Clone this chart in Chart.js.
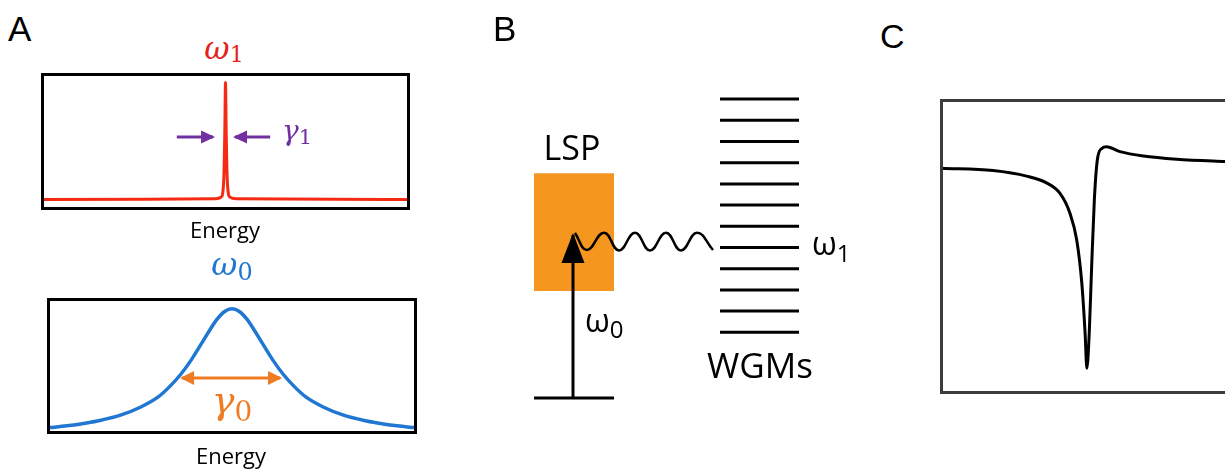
<!DOCTYPE html>
<html>
<head>
<meta charset="utf-8">
<script src="https://cdn.jsdelivr.net/npm/chart.js@4.4.1/dist/chart.umd.min.js"></script>
<style>
  html, body { margin: 0; padding: 0; width: 1225px; height: 469px; overflow: hidden; background: #fff; }
  canvas { position: absolute; }
  .lbl { position: absolute; white-space: nowrap; line-height: 1; }
  .sub { position: relative; font-style: normal; }
</style>
</head>
<body>
<canvas id="cavityMode" width="380" height="148" style="left:36px;top:68px"></canvas>
<canvas id="plasmonMode" width="380" height="146" style="left:42px;top:293px"></canvas>
<canvas id="levelScheme" width="400" height="469" style="left:480px;top:0px"></canvas>
<canvas id="fanoShape" width="312" height="305" style="left:935px;top:94px"></canvas>
<script>
// ---- data ----
// narrow WGM resonance (omega_1)
const cavityX = [0, 47, 48.8, 49.5, 49.8, 50, 50.2, 50.5, 51.2, 53, 100];
const cavityY = [0.067, 0.072, 0.085, 0.2, 0.55, 0.94, 0.55, 0.2, 0.085, 0.072, 0.067];

// broad LSP resonance (omega_0)
const plasmonX = [0, 5, 10, 14, 20, 25, 30, 33, 36, 39, 42, 44, 46, 48, 50,
                  52, 54, 56, 58, 61, 64, 67, 70, 75, 80, 86, 90, 95, 100];
const plasmonY = [0.035, 0.05, 0.07, 0.09, 0.134, 0.19, 0.27, 0.345, 0.436, 0.55, 0.683, 0.773, 0.854, 0.91, 0.93,
                  0.91, 0.854, 0.773, 0.683, 0.55, 0.436, 0.345, 0.27, 0.19, 0.134, 0.09, 0.07, 0.05, 0.035];

// linewidth markers
const gamma1Y = 0.534;
const gamma1Left = [36.7, 46.6];
const gamma1Right = [62.2, 52.6];
const gamma0Y = 0.41;
const gamma0Span = [36.4, 63.1];

// Fano line shape
const fanoX = [0, 17.3, 28.5, 35.2, 39.7, 43.0, 45.3, 47.0, 48.1, 48.7, 49.5, 50.3, 51.2, 52.2, 53.7, 55.3, 59.8, 67.6, 78.8, 95, 100];
const fanoY = [0.768, 0.76, 0.741, 0.718, 0.682, 0.615, 0.522, 0.375, 0.205, 0.083, 0.205, 0.431, 0.659, 0.796, 0.836, 0.842, 0.825, 0.81, 0.799, 0.791, 0.789];

// energy level scheme
const groundLevel = 0;
const lspSpan = [54, 134];
const lspTop = 10.6;
const lspBottom = 5.05;
const pumpX = 93;
const pumpTop = 7.69;
const wgmSpan = [240, 319];
const wgmLevels = [3.1, 4.1, 5.1, 6.1, 7.1, 8.1, 9.1, 10.1, 11.1, 12.1, 13.1, 14.1];
const couplingX = [95, 107, 124, 139, 155, 170, 186, 201, 217, 233];
const couplingY = [7.78, 6.98, 7.8, 6.96, 7.8, 6.96, 7.8, 6.96, 7.8, 6.98];

const toPoints = (xs, ys) => xs.map((x, i) => ({ x: x, y: ys[i] }));

// ---- plugins ----
// box around the plot area
const frame = {
  id: 'frame',
  defaults: { width: 0, color: '#000' },
  afterDraw(chart, args, opts) {
    if (!opts.width) return;
    const { left, top, width, height } = chart.chartArea;
    const ctx = chart.ctx;
    ctx.save();
    ctx.lineWidth = opts.width;
    ctx.strokeStyle = opts.color;
    ctx.strokeRect(left, top, width, height);
    ctx.restore();
  }
};

// filled triangle heads on datasets that carry an `arrow` setting
const arrowHeads = {
  id: 'arrowHeads',
  afterDatasetsDraw(chart) {
    const ctx = chart.ctx;
    chart.data.datasets.forEach((ds, i) => {
      if (!ds.arrow) return;
      const pts = chart.getDatasetMeta(i).data;
      const ends = [];
      if (ds.arrow.end) ends.push([pts[pts.length - 1], pts[pts.length - 2]]);
      if (ds.arrow.start) ends.push([pts[0], pts[1]]);
      ends.forEach(([tip, from]) => {
        const a = Math.atan2(tip.y - from.y, tip.x - from.x);
        const len = ds.arrow.length;
        const half = ds.arrow.width / 2;
        ctx.save();
        ctx.translate(tip.x, tip.y);
        ctx.rotate(a);
        ctx.beginPath();
        ctx.moveTo(2, 0);
        ctx.lineTo(-len, -half);
        ctx.lineTo(-len, half);
        ctx.closePath();
        ctx.fillStyle = ds.borderColor;
        ctx.fill();
        ctx.restore();
      });
    });
  }
};

Chart.register(frame, arrowHeads);

function hiddenScales(xMin, xMax, yMin, yMax) {
  return {
    x: { type: 'linear', min: xMin, max: xMax, display: false },
    y: { type: 'linear', min: yMin, max: yMax, display: false }
  };
}

function baseOptions(scales, padding, frameOpts) {
  return {
    responsive: false,
    animation: false,
    events: [],
    layout: { padding: padding },
    elements: { point: { radius: 0 } },
    scales: scales,
    plugins: {
      legend: { display: false },
      tooltip: { enabled: false },
      frame: frameOpts
    }
  };
}

// ---- A: omega_1 resonance ----
new Chart(document.getElementById('cavityMode'), {
  type: 'line',
  data: {
    datasets: [
      {
        data: toPoints(cavityX, cavityY),
        borderColor: '#f52a12',
        borderWidth: 3,
        cubicInterpolationMode: 'monotone'
      },
      {
        data: toPoints(gamma1Left, [gamma1Y, gamma1Y]),
        borderColor: '#7030a0',
        borderWidth: 3,
        arrow: { end: true, length: 12, width: 13 }
      },
      {
        data: toPoints(gamma1Right, [gamma1Y, gamma1Y]),
        borderColor: '#7030a0',
        borderWidth: 3,
        arrow: { end: true, length: 12, width: 13 }
      }
    ]
  },
  options: baseOptions(hiddenScales(0, 100, 0, 1),
    { left: 6.5, right: 7.5, top: 6.5, bottom: 7.5 }, { width: 3, color: '#000' })
});

// ---- A: omega_0 resonance ----
new Chart(document.getElementById('plasmonMode'), {
  type: 'line',
  data: {
    datasets: [
      {
        data: toPoints(plasmonX, plasmonY),
        borderColor: '#1f77d2',
        borderWidth: 3.5,
        cubicInterpolationMode: 'monotone'
      },
      {
        data: toPoints(gamma0Span, [gamma0Y, gamma0Y]),
        borderColor: '#ef7b22',
        borderWidth: 3,
        arrow: { start: true, end: true, length: 12, width: 14 }
      }
    ]
  },
  options: baseOptions(hiddenScales(0, 100, 0, 1),
    { left: 6.5, right: 6.5, top: 6.5, bottom: 6.5 }, { width: 3, color: '#000' })
});

// ---- B: LSP pumped at omega_0, coupled to the WGM ladder ----
const wgmPoints = wgmLevels.flatMap(e => [
  { x: wgmSpan[0], y: e }, { x: wgmSpan[1], y: e }, { x: wgmSpan[1], y: null }
]);

new Chart(document.getElementById('levelScheme'), {
  type: 'line',
  data: {
    datasets: [
      {
        data: toPoints(couplingX, couplingY),
        borderColor: '#000',
        borderWidth: 2.5,
        tension: 0.45
      },
      {
        data: toPoints([pumpX, pumpX], [groundLevel, pumpTop]),
        borderColor: '#000',
        borderWidth: 3,
        arrow: { end: true, length: 28, width: 23 }
      },
      {
        data: toPoints(lspSpan, [groundLevel, groundLevel]),
        borderColor: '#000',
        borderWidth: 3
      },
      {
        data: wgmPoints,
        borderColor: '#000',
        borderWidth: 3,
        spanGaps: false
      },
      {
        // LSP band
        data: toPoints(lspSpan, [lspTop, lspTop]),
        borderWidth: 0,
        backgroundColor: '#f5961f',
        fill: { value: lspBottom },
        order: 1
      }
    ]
  },
  options: baseOptions(hiddenScales(0, 400, -71 / 21.2, 398 / 21.2), 0, { width: 0 })
});

// ---- C: Fano profile ----
new Chart(document.getElementById('fanoShape'), {
  type: 'line',
  data: {
    datasets: [
      {
        data: toPoints(fanoX, fanoY),
        borderColor: '#000',
        borderWidth: 3,
        cubicInterpolationMode: 'monotone'
      }
    ]
  },
  options: baseOptions(hiddenScales(0, 100, 0, 1),
    { left: 6.5, right: 7, top: 6.5, bottom: 6.5 }, { width: 3, color: '#3c3c3c' })
});

// ---- text ----
const baselineRatio = { 'Liberation Sans': 0.8465, 'Open Sans': 0.888, 'DejaVu Serif': 0.846 };

function addLabel(html, x, baseline, family, size, color, opts) {
  opts = opts || {};
  const el = document.createElement('div');
  el.className = 'lbl';
  el.innerHTML = html;
  el.style.fontFamily = '"' + family + '"';
  el.style.fontSize = size + 'px';
  el.style.color = color || '#000';
  if (opts.italic) el.style.fontStyle = 'italic';
  el.style.left = x + 'px';
  el.style.top = (baseline - baselineRatio[family] * size) + 'px';
  if (opts.center) el.style.transform = 'translateX(-50%)';
  document.body.appendChild(el);
}

const sub = (t, size, shift) => '<span class="sub" style="font-size:' + size + 'px;top:' + shift + 'px">' + t + '</span>';

addLabel('A', 8, 41, 'Liberation Sans', 35);
addLabel('B', 493, 41, 'Liberation Sans', 35);
addLabel('C', 880, 48, 'Liberation Sans', 34);

addLabel('ω' + sub('1', 22, 3), 224, 59, 'DejaVu Serif', 31, '#e3201b', { italic: true, center: true });
addLabel('γ' + sub('1', 21, 4), 282, 141, 'DejaVu Serif', 28, '#7030a0', { italic: true });
addLabel('Energy', 225, 238, 'Open Sans', 22, '#000', { center: true });
addLabel('ω' + sub('0', 24, 5), 232, 275, 'DejaVu Serif', 32, '#1f77d2', { italic: true, center: true });
addLabel('γ' + sub('0', 28, 8), 232, 413, 'DejaVu Serif', 38, '#ef7b22', { italic: true, center: true });
addLabel('Energy', 231, 464, 'Open Sans', 22, '#000', { center: true });

addLabel('LSP', 572, 160, 'Open Sans', 34, '#000', { center: true });
addLabel('ω' + sub('1', 24, 7), 812, 255, 'Open Sans', 32);
addLabel('ω' + sub('0', 24, 6), 585, 332, 'Open Sans', 32);
addLabel('WGMs', 760, 378, 'Open Sans', 35, '#000', { center: true });
</script>
</body>
</html>
